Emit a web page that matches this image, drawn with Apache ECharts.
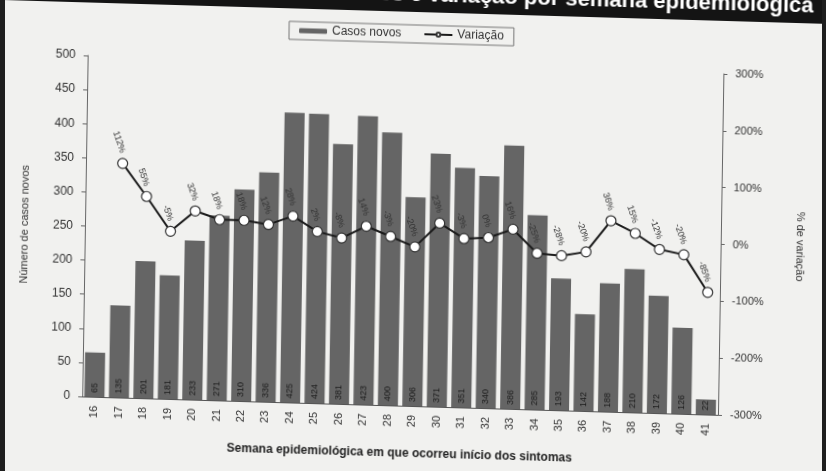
<!DOCTYPE html>
<html>
<head>
<meta charset="utf-8">
<script src="https://cdn.jsdelivr.net/npm/echarts@6/dist/echarts.min.js"></script>
<style>
  html, body { margin: 0; padding: 0; overflow: hidden; background: #f1f1ef; }
  #wrap { position: relative; width: 826px; height: 471px; overflow: hidden; }
  /* the reference is a photo, slightly skewed */
  #chart {
    position: absolute; left: -20px; top: -20px; width: 866px; height: 531px;
    transform-origin: 433px 255px;
    transform: matrix(1, 0.029, -0.016, 1, 0, 0);
  }
  .edge { position: absolute; top: 0; width: 5px; height: 471px; background: #1e1e1e; }
</style>
</head>
<body>
<div id="wrap">
  <div id="chart"></div>
  <div class="edge" style="left:0"></div>
  <div class="edge" style="right:0; width:4px"></div>
</div>
<script>
const weeks = ["16", "17", "18", "19", "20", "21", "22", "23", "24", "25", "26", "27", "28",
  "29", "30", "31", "32", "33", "34", "35", "36", "37", "38", "39", "40", "41"];
const casosNovos = [65, 135, 201, 181, 233, 271, 310, 336, 425, 424, 381, 423, 400,
  306, 371, 351, 340, 386, 285, 193, 142, 188, 210, 172, 126, 22];
// variação (%) em relação à semana anterior
const variacao = [null, 112, 55, -5, 32, 18, 18, 12, 28, 2, -8, 14, -3,
  -20, 23, -3, 0, 16, -25, -28, -20, 36, 15, -12, -20, -85];
const leftTicks = { min: 0, max: 500, interval: 50 };
const rightTicks = { min: -300, max: 300, interval: 100 };

let chart = echarts.init(document.getElementById("chart"));

let option = {
  backgroundColor: "#f1f1ef",
  textStyle: { fontFamily: "Liberation Sans, Arial, sans-serif", color: "#333" },
  animation: false,
  graphic: [
    { type: "rect", shape: { x: 0, y: 0, width: 866, height: 32 }, style: { fill: "#141414" } },
    {
      type: "text", x: 830, y: 15,
      style: {
        text: "Casos novos e variação por semana epidemiológica",
        fill: "#fff", font: "bold 22px Liberation Sans, Arial, sans-serif",
        align: "right", verticalAlign: "middle"
      }
    }
  ],
  legend: {
    top: 45,
    left: 306,
    data: ["Casos novos", "Variação"],
    borderColor: "#777",
    borderWidth: 1,
    padding: [3, 10],
    itemGap: 22,
    itemWidth: 28,
    itemHeight: 5,
    textStyle: { fontSize: 12, color: "#333" }
  },
  grid: { left: 105, right: 125, top: 85, bottom: 105 },
  xAxis: {
    type: "category",
    data: weeks,
    name: "Semana epidemiológica em que ocorreu início dos sintomas",
    nameLocation: "middle",
    nameGap: 42,
    nameTextStyle: { fontSize: 12, fontWeight: "bold", color: "#222" },
    axisLine: { lineStyle: { color: "#555" } },
    axisTick: { lineStyle: { color: "#555" }, length: 4 },
    axisLabel: { rotate: 90, fontSize: 11, color: "#333", margin: 9 }
  },
  yAxis: [
    {
      type: "value",
      min: leftTicks.min,
      max: leftTicks.max,
      interval: leftTicks.interval,
      name: "Número de casos novos",
      nameLocation: "middle",
      nameRotate: 90,
      nameGap: 55,
      nameTextStyle: { fontSize: 11, color: "#333" },
      axisLine: { show: true, lineStyle: { color: "#666" } },
      axisTick: { show: true, length: 4, lineStyle: { color: "#666" } },
      axisLabel: { fontSize: 12, color: "#333", margin: 12 },
      splitLine: { show: false }
    },
    {
      type: "value",
      min: rightTicks.min,
      max: rightTicks.max,
      interval: rightTicks.interval,
      name: "% de variação",
      nameLocation: "middle",
      nameRotate: -90,
      nameGap: 74,
      nameTextStyle: { fontSize: 11, color: "#333" },
      axisLine: { show: true, lineStyle: { color: "#666" } },
      axisTick: { show: true, length: 4, lineStyle: { color: "#666" } },
      axisLabel: { fontSize: 11, color: "#333", margin: 12, formatter: "{value}%" },
      splitLine: { show: false }
    }
  ],
  series: [
    {
      name: "Casos novos",
      type: "bar",
      data: casosNovos,
      barCategoryGap: "18%",
      itemStyle: { color: "#656565" },
      label: {
        show: true,
        position: "insideBottom",
        rotate: 90,
        align: "left",
        verticalAlign: "middle",
        distance: 4,
        fontSize: 9,
        color: "#1c1c1c"
      }
    },
    {
      name: "Variação",
      type: "line",
      yAxisIndex: 1,
      data: variacao,
      symbol: "circle",
      symbolSize: 10,
      lineStyle: { color: "#1a1a1a", width: 2 },
      itemStyle: { color: "#fff", borderColor: "#333", borderWidth: 1.2 },
      label: {
        show: true,
        position: "top",
        rotate: -70,
        align: "right",
        verticalAlign: "middle",
        distance: 5,
        fontSize: 9,
        color: "#333",
        formatter: (p) => p.value + "%"
      }
    }
  ]
};

chart.setOption(option);
</script>
</body>
</html>
